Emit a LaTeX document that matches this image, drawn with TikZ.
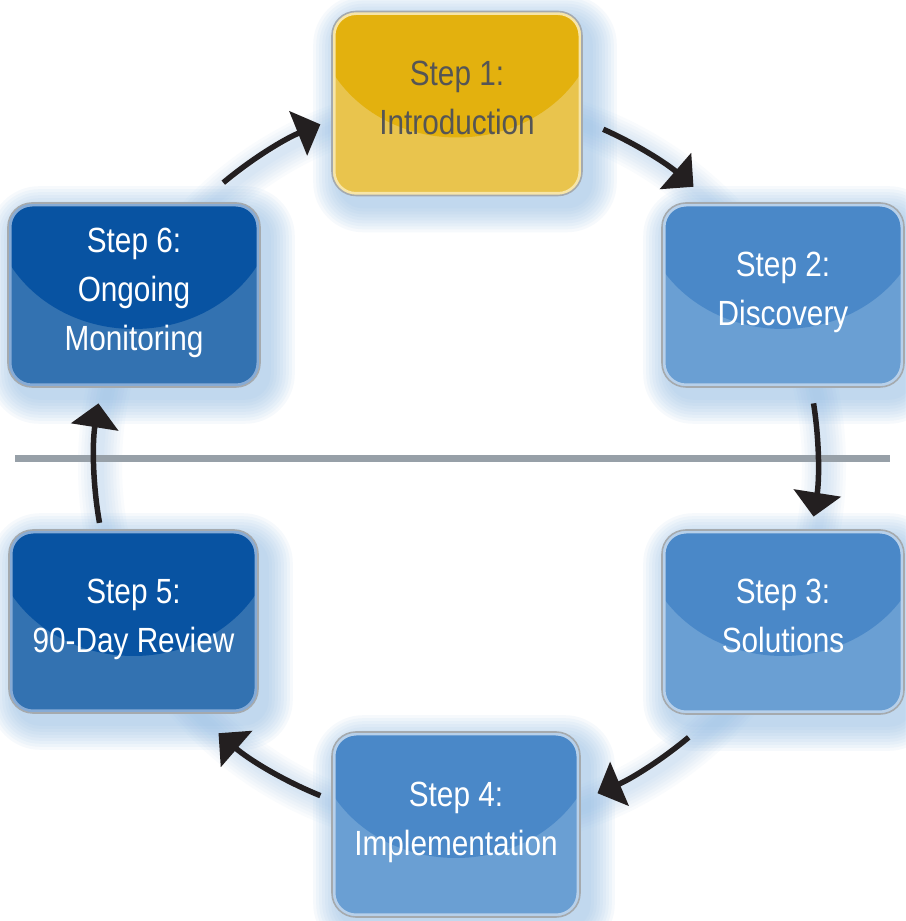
\documentclass[tikz,border=0pt]{standalone}
\usepackage{fontspec}
\setmainfont{Liberation Sans}[FakeStretch=0.85]
\usetikzlibrary{arrows.meta}
\pgfdeclarelayer{paper}
\pgfdeclarelayer{background}
\pgfsetlayers{paper,background,main}
\definecolor{lbfill}{HTML}{6A9FD3}
\definecolor{lbgloss}{HTML}{4A88C8}
\definecolor{lbrim}{HTML}{B7D0EA}
\definecolor{dbfill}{HTML}{3372B1}
\definecolor{dbgloss}{HTML}{0853A2}
\definecolor{dbrim}{HTML}{86ABD6}
\definecolor{gdfill}{HTML}{E9C44D}
\definecolor{gdgloss}{HTML}{E3B10E}
\definecolor{gdrim}{HTML}{F7E5A8}
\definecolor{bordergray}{HTML}{A5AAAE}
\definecolor{txtgray}{HTML}{555555}
\definecolor{rulegray}{HTML}{97A0A8}
\definecolor{arrowblack}{HTML}{231F20}
\definecolor{glowblue}{HTML}{8AB8E4}
\tikzset{
  stepbox/.style n args={3}{
    rectangle, rounded corners=24pt, fill=#1, draw=bordergray, line width=1.6pt,
    minimum width=250pt, minimum height=184pt, inner sep=0pt,
    align=center, text=white, font={\fontsize{35}{49}\selectfont},
    text depth=12pt,
    path picture={
      \fill[#2] (path picture bounding box.north) ellipse [x radius=142pt, y radius=126pt];
      \draw[#3, line width=7pt, rounded corners=24pt]
        (path picture bounding box.south west) rectangle (path picture bounding box.north east);
    }
  },
  flow/.style={draw=arrowblack, line width=5.5pt, -{Triangle[width=47pt,length=24pt]}},
  divider/.style={draw=rulegray, line width=7pt}
}
\newcommand\glowbox[1]{%
  \foreach \s in {26,23,...,2}{%
    \pgfmathsetmacro\rr{24+\s}%
    \fill[glowblue, opacity=0.075, rounded corners=\rr pt]
      ([shift={(-\s pt+8pt,-\s pt-10pt)}]#1.south west) rectangle ([shift={(\s pt+8pt,\s pt-10pt)}]#1.north east);
  }%
}
\begin{document}
\begin{tikzpicture}[x=1pt,y=1pt]
\useasboundingbox (0,0) rectangle (905,921);
\begin{pgfonlayer}{paper}
  \fill[white] (0,0) rectangle (905,921);
\end{pgfonlayer}
\coordinate (ctr) at (456,461);

% boxes
\node[stepbox={gdfill}{gdgloss}{gdrim}, text=txtgray] (s1) at (457,817.5) {Step 1:\\Introduction};
\node[stepbox={lbfill}{lbgloss}{lbrim}, minimum width=242pt] (s2) at (783,626) {Step 2:\\Discovery};
\node[stepbox={lbfill}{lbgloss}{lbrim}, minimum width=242pt] (s3) at (783,299) {Step 3:\\Solutions};
\node[stepbox={lbfill}{lbgloss}{lbrim}, minimum width=248pt, minimum height=185pt] (s4) at (456,96.5) {Step 4:\\Implementation};
\node[stepbox={dbfill}{dbgloss}{dbrim}, minimum width=249pt, minimum height=183pt] (s5) at (133.5,299.5) {Step 5:\\90-Day Review};
\node[stepbox={dbfill}{dbgloss}{dbrim}, minimum width=252pt] (s6) at (134,626) {Step 6:\\Ongoing\\Monitoring};

% glow
\begin{pgfonlayer}{background}
  \foreach \w in {44,38,...,8}{
    \draw[glowblue, opacity=0.05, line width=\w pt] ([shift={(6pt,-6pt)}]ctr) circle[radius=362pt];
  }
  \glowbox{s1}\glowbox{s2}\glowbox{s3}\glowbox{s4}\glowbox{s5}\glowbox{s6}
\end{pgfonlayer}

% divider
\coordinate (dl) at (15,462.5);
\coordinate (dr) at (890,462.5);
\draw[divider] (dl) -- (dr);

% arrow end points on the ring
\path (ctr) ++(66:362pt) coordinate (a1s);
\path (ctr) ++(9:362pt) coordinate (a2s);
\path (ctr) ++(-50:362pt) coordinate (a3s);
\path (ctr) ++(-112:362pt) coordinate (a4s);
\path (ctr) ++(-170:362pt) coordinate (a5s);
\path (ctr) ++(130:362pt) coordinate (a6s);

\draw[flow] (a1s) arc[start angle=66, end angle=49, radius=362pt];
\draw[flow] (a2s) arc[start angle=9, end angle=-9, radius=362pt];
\draw[flow] (a3s) arc[start angle=-50, end angle=-67, radius=362pt];
\draw[flow] (a4s) arc[start angle=-112, end angle=-131, radius=362pt];
\draw[flow] (a5s) arc[start angle=-170, end angle=-189, radius=362pt];
\draw[flow] (a6s) arc[start angle=130, end angle=112, radius=362pt];
\end{tikzpicture}
\end{document}
